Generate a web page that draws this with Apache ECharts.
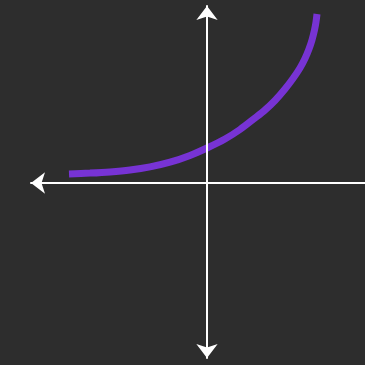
<!DOCTYPE html>
<html>
<head>
<meta charset="utf-8">
<script src="https://cdn.jsdelivr.net/npm/echarts@6/dist/echarts.min.js"></script>
<style>
  html, body { margin: 0; padding: 0; background: #2d2d2d; }
  #curve { width: 365px; height: 365px; }
</style>
</head>
<body>
<div id="curve"></div>
<script>
// points along the curve (axis units)
const xValues = [-2.76, -2.34, -1.94, -1.54, -1.14, -0.74, -0.34, 0, 0.36, 0.66, 0.96,
  1.16, 1.36, 1.56, 1.72, 1.86, 1.96, 2.04, 2.1, 2.15, 2.18, 2.2];
const yValues = [0.18, 0.198, 0.222, 0.26, 0.322, 0.416, 0.552, 0.7, 0.88, 1.07, 1.3,
  1.46, 1.65, 1.88, 2.09, 2.3, 2.49, 2.68, 2.86, 3.06, 3.22, 3.38];

const xRange = [-3.52, 3.16];
const yRange = [-3.5, 3.54];

const myChart = echarts.init(document.getElementById("curve"));

const axisLine = (arrows) => ({
  onZero: true,
  symbol: arrows,
  symbolSize: [16, 14],
  lineStyle: { color: "#ffffff", width: 2 },
});

const option = {
  backgroundColor: "#2d2d2d",
  animation: false,
  grid: { left: 31, right: 0, top: 6, bottom: 7 },
  xAxis: {
    type: "value",
    min: xRange[0],
    max: xRange[1],
    z: 5,
    axisLine: axisLine(["arrow", "none"]),
    axisTick: { show: false },
    axisLabel: { show: false },
    splitLine: { show: false },
  },
  yAxis: {
    type: "value",
    min: yRange[0],
    max: yRange[1],
    z: 5,
    axisLine: axisLine(["arrow", "arrow"]),
    axisTick: { show: false },
    axisLabel: { show: false },
    splitLine: { show: false },
  },
  series: [
    {
      type: "line",
      smooth: 0.3,
      showSymbol: false,
      data: xValues.map((x, i) => [x, yValues[i]]),
      lineStyle: { color: "#7733d4", width: 7, cap: "butt" },
    },
  ],
};

myChart.setOption(option);
</script>
</body>
</html>
